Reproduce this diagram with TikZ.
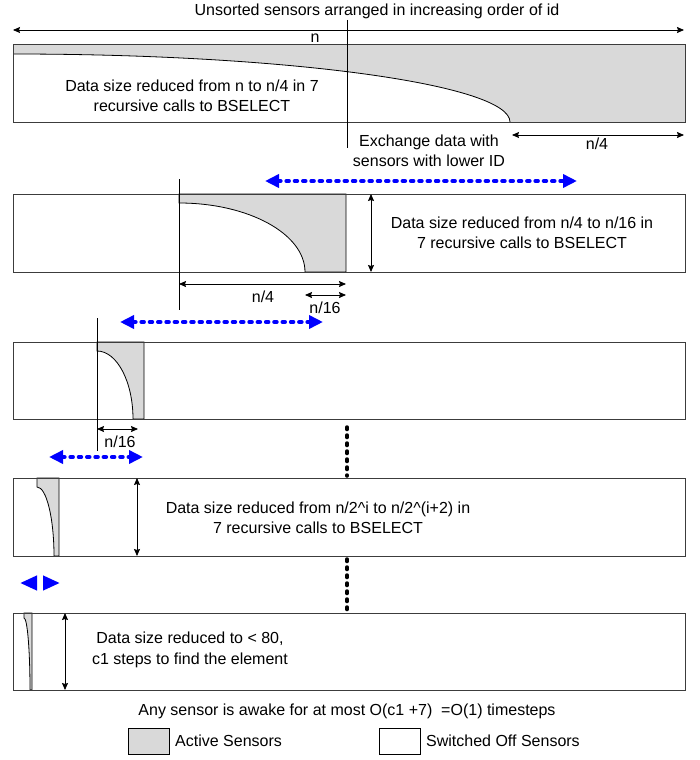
\documentclass[tikz,border=0pt]{standalone}
\usepackage{fontspec}
\setmainfont{Liberation Sans}
\usetikzlibrary{arrows.meta}
\definecolor{activegray}{RGB}{217,217,217}
\definecolor{linegray}{RGB}{60,60,60}
\definecolor{xblue}{RGB}{0,0,255}
\begin{document}
\begin{tikzpicture}[x=1pt,y=-1pt,
  bandbox/.style={draw=linegray, line width=1pt, inner sep=0pt, outer sep=0pt, minimum width=672pt},
  activefill/.style={fill=activegray, draw=black, line width=0.8pt},
  guide/.style={draw=black, line width=1pt},
  dimarrow/.style={draw=black, line width=0.8pt, {Stealth[length=7pt,width=6pt,inset=1pt]}-{Stealth[length=7pt,width=6pt,inset=1pt]}},
  exchange/.style={draw=xblue, line width=4pt, line cap=round, dash pattern=on 2.5pt off 5.8pt, {Triangle[length=14pt,width=13pt]}-{Triangle[length=14pt,width=13pt]}},
  tipsonly/.style={line cap=butt, dash pattern=on 0pt off 60pt},
  skipline/.style={draw=black, line width=3.5pt, line cap=round, dash pattern=on 2.5pt off 5.5pt},
  lbl/.style={font=\fontsize{16}{20.5}\selectfont, inner sep=0pt, align=center},
  legendbox/.style={draw=black, line width=1pt, inner sep=0pt, minimum width=41pt, minimum height=26pt}
]
\useasboundingbox (0,0) rectangle (699,760);

% title and n arrow
\node[lbl] (title) at (377,11) {Unsorted sensors arranged in increasing order of id};
\coordinate (nL) at (13,30);
\coordinate (nR) at (684,30);
\draw[dimarrow] (nL) -- (nR);
\node[lbl] (nlabel) at (315,38) {n};

% ---------- band 1
\fill[activegray] (13,45) -- (685,45) -- (685,122) -- (510,122)
   .. controls (510,84.5) and (287.4,54) .. (13,54) -- cycle;
\draw[line width=0.8pt] (13,54) .. controls (287.4,54) and (510,84.5) .. (510,122);
\node[bandbox, minimum height=77pt] (band1) at (349,83.5) {};
\node[lbl] (text1) at (192,96) {Data size reduced from n to n/4 in 7\\recursive calls to BSELECT};
\coordinate (v1top) at (347,20);
\coordinate (v1bot) at (347,148);
\draw[guide] (v1top) -- (v1bot);
\node[lbl] (exch) at (429,151) {Exchange data with\\sensors with lower ID};
\coordinate (q1L) at (512,135);
\coordinate (q1R) at (684,135);
\draw[dimarrow] (q1L) -- (q1R);
\node[lbl] (q1lab) at (597,144) {n/4};

% exchange arrow 1
\coordinate (x1L) at (265,181);
\coordinate (x1R) at (577,181);
\draw[exchange] (x1L) -- (x1R);

% ---------- band 2
\filldraw[activefill] (179,194) -- (346,194) -- (346,272) -- (305,272)
   .. controls (305,233.9) and (248.6,203) .. (179,203) -- cycle;
\node[bandbox, minimum height=78pt] (band2) at (349,233) {};
\coordinate (v2top) at (179,179);
\coordinate (v2bot) at (179,310);
\draw[guide] (v2top) -- (v2bot);
\coordinate (h2top) at (371,194);
\coordinate (h2bot) at (371,272);
\draw[dimarrow] (h2top) -- (h2bot);
\node[lbl] (text2) at (522,233) {Data size reduced from n/4 to n/16 in\\7 recursive calls to BSELECT};
\coordinate (q2L) at (179,284);
\coordinate (q2R) at (346,284);
\draw[dimarrow] (q2L) -- (q2R);
\node[lbl] (q2lab) at (263,297) {n/4};
\coordinate (s2L) at (305,295);
\coordinate (s2R) at (346,295);
\draw[dimarrow] (s2L) -- (s2R);
\node[lbl] (s2lab) at (325,308) {n/16};

% exchange arrow 2
\coordinate (x2L) at (120,322);
\coordinate (x2R) at (323,322);
\draw[exchange] (x2L) -- (x2R);

% ---------- band 3
\filldraw[activefill] (97,342) -- (144,342) -- (144,419) -- (133,419)
   .. controls (133,381.5) and (116.9,351) .. (97,351) -- cycle;
\node[bandbox, minimum height=77pt] (band3) at (349,380.5) {};
\coordinate (v3top) at (97,318);
\coordinate (v3bot) at (97,451);
\draw[guide] (v3top) -- (v3bot);
\coordinate (s3L) at (97,429);
\coordinate (s3R) at (138,429);
\draw[dimarrow] (s3L) -- (s3R);
\node[lbl] (s3lab) at (120,442) {n/16};

% exchange arrow 3
\coordinate (x3L) at (49,457);
\coordinate (x3R) at (143,457);
\draw[exchange] (x3L) -- (x3R);

% skip dots 1
\coordinate (d1top) at (347,427);
\coordinate (d1bot) at (347,476);
\draw[skipline] (d1top) -- (d1bot);

% ---------- band 4
\filldraw[activefill] (37,478) -- (59,478) -- (59,556) -- (54,556)
   .. controls (54,517.9) and (46.4,487) .. (37,487) -- cycle;
\node[bandbox, minimum height=78pt] (band4) at (349,517) {};
\coordinate (h4top) at (137,478);
\coordinate (h4bot) at (137,556);
\draw[dimarrow] (h4top) -- (h4bot);
\node[lbl] (text4) at (318,518) {Data size reduced from n/2\^{}i to n/2\^{}(i+2) in\\7 recursive calls to BSELECT};

% exchange arrow 4
\coordinate (x4L) at (20,583);
\coordinate (x4R) at (60,583);
\draw[exchange, tipsonly, {Triangle[length=17pt,width=14pt]}-{Triangle[length=17pt,width=14pt]}] (x4L) -- (x4R);

% skip dots 2
\coordinate (d2top) at (347,559);
\coordinate (d2bot) at (347,611);
\draw[skipline] (d2top) -- (d2bot);

% ---------- band 5
\filldraw[activefill] (24,613) -- (32,613) -- (32,690) -- (30,690)
   .. controls (30,650) and (27.3,618) .. (24,618) -- cycle;
\node[bandbox, minimum height=77pt] (band5) at (349,651.5) {};
\coordinate (h5top) at (65,613);
\coordinate (h5bot) at (65,690);
\draw[dimarrow] (h5top) -- (h5bot);
\node[lbl] (text5) at (190,650) {Data size reduced to < 80,\\c1 steps to find the element};

% footer
\node[lbl] (footer) at (347,711) {Any sensor is awake for at most O(c1 +7) \ =O(1) timesteps};

% legend
\node[legendbox, fill=activegray] (legA) at (148.5,741) {};
\node[lbl, anchor=west] (legAtext) at (175,741) {Active Sensors};
\node[legendbox, fill=white] (legB) at (399.5,741) {};
\node[lbl, anchor=west] (legBtext) at (426,741) {Switched Off Sensors};
\end{tikzpicture}
\end{document}
